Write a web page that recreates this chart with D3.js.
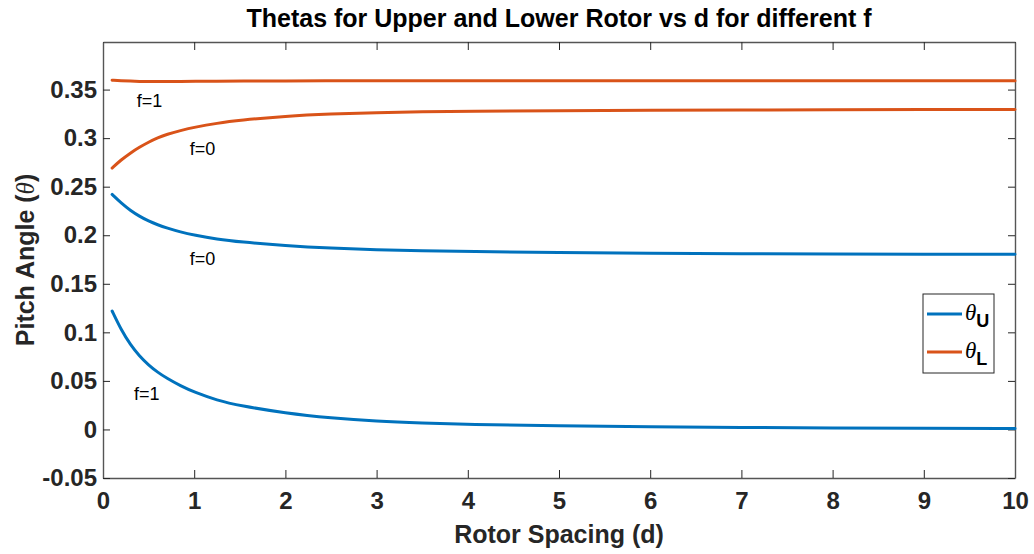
<!DOCTYPE html>
<html>
<head>
<meta charset="utf-8">
<script src="https://cdn.jsdelivr.net/npm/d3@7"></script>
<style>
  body { margin: 0; background: #fff; }
  text { font-family: "Liberation Sans", Arial, Helvetica, sans-serif; }
</style>
</head>
<body>
<div id="container"></div>
<script>
// data
const spacing = [0.1, 0.2, 0.3, 0.4, 0.5, 0.6, 0.7, 0.85, 1, 1.25, 1.5, 2, 2.5, 3, 3.5, 4, 5, 6, 7, 8, 9, 10];
const upperF1 = [0.122, 0.1024, 0.0873, 0.0755, 0.0663, 0.0588, 0.0527, 0.0449, 0.0384, 0.030, 0.0245, 0.0168, 0.0118, 0.0084, 0.0065, 0.0051, 0.0036, 0.0026, 0.002, 0.0015, 0.0012, 0.001];
const upperF0 = [0.242, 0.233, 0.2255, 0.2195, 0.2145, 0.2107, 0.2075, 0.2033, 0.2002, 0.196, 0.1932, 0.1892, 0.1866, 0.185, 0.184, 0.1832, 0.1822, 0.1815, 0.181, 0.1807, 0.1805, 0.1803];
const lowerF0 = [0.2692, 0.2777, 0.2847, 0.2907, 0.2959, 0.3004, 0.3040, 0.3078, 0.3112, 0.3154, 0.3184, 0.3226, 0.3249, 0.3263, 0.3271, 0.3276, 0.3283, 0.3287, 0.329, 0.3292, 0.3294, 0.3295];
const lowerF1 = [0.3597, 0.3591, 0.3587, 0.3584, 0.3583, 0.3583, 0.3583, 0.3584, 0.3585, 0.3586, 0.3587, 0.3589, 0.359, 0.359, 0.359, 0.3591, 0.3591, 0.3591, 0.3592, 0.3592, 0.3592, 0.3592];
const xTicks = [0, 1, 2, 3, 4, 5, 6, 7, 8, 9, 10];
const yTicks = [-0.05, 0, 0.05, 0.1, 0.15, 0.2, 0.25, 0.3, 0.35];
const curveLabels = [
  { text: "f=1", x: 0.37, y: 0.339 },
  { text: "f=0", x: 0.95, y: 0.2895 },
  { text: "f=0", x: 0.95, y: 0.1756 },
  { text: "f=1", x: 0.34, y: 0.0373 }
];

const width = 1034, height = 554;
const margin = { top: 42, right: 19, bottom: 76, left: 103 };
const blue = "#0072BD", orange = "#D95319";

const svg = d3.select("#container").append("svg")
  .attr("width", width).attr("height", height);

const x = d3.scaleLinear().domain([0, 10]).range([margin.left, width - margin.right]);
const y = d3.scaleLinear().domain([-0.05, 0.399]).range([height - margin.bottom, margin.top]);

// axes, MATLAB-ish box with inward ticks
const axisColor = "#555";
function styleAxis(g) {
  g.select(".domain").attr("stroke", axisColor).attr("stroke-width", 1.4);
  g.selectAll(".tick line").attr("stroke", "#262626").attr("stroke-width", 1);
}

svg.append("g")
  .attr("transform", `translate(0,${y.range()[0]})`)
  .call(d3.axisBottom(x).tickValues(xTicks).tickSizeInner(-8).tickSizeOuter(0).tickPadding(14).tickFormat(d3.format("d")))
  .call(styleAxis)
  .selectAll("text").attr("font-size", 24).attr("font-weight", "bold").attr("fill", "#262626");

svg.append("g")
  .attr("transform", `translate(0,${y.range()[1]})`)
  .call(d3.axisTop(x).tickValues(xTicks).tickSizeInner(-8).tickSizeOuter(0).tickFormat(""))
  .call(styleAxis);

svg.append("g")
  .attr("transform", `translate(${x.range()[0]},0)`)
  .call(d3.axisLeft(y).tickValues(yTicks).tickSizeInner(-7).tickSizeOuter(0).tickPadding(6).tickFormat(d => String(+d.toFixed(2))))
  .call(styleAxis)
  .selectAll("text").attr("font-size", 24).attr("font-weight", "bold").attr("fill", "#262626");

svg.append("g")
  .attr("transform", `translate(${x.range()[1]},0)`)
  .call(d3.axisRight(y).tickValues(yTicks).tickSizeInner(-7).tickSizeOuter(0).tickFormat(""))
  .call(styleAxis);

// curves
const line = d3.line()
  .x((d, i) => x(spacing[i]))
  .y(d => y(d))
  .curve(d3.curveBasis);

const series = [
  { values: upperF1, color: blue },
  { values: upperF0, color: blue },
  { values: lowerF0, color: orange },
  { values: lowerF1, color: orange }
];

svg.append("g").selectAll("path")
  .data(series)
  .enter().append("path")
  .attr("fill", "none")
  .attr("stroke", d => d.color)
  .attr("stroke-width", 3)
  .attr("stroke-linecap", "round")
  .attr("d", d => line(d.values));

// f= annotations
svg.append("g").selectAll("text")
  .data(curveLabels)
  .enter().append("text")
  .attr("x", d => x(d.x))
  .attr("y", d => y(d.y))
  .attr("dy", "0.35em")
  .attr("font-size", 18)
  .attr("fill", "#000")
  .text(d => d.text);

// title
svg.append("text")
  .attr("x", (x.range()[0] + x.range()[1]) / 2)
  .attr("y", 27)
  .attr("text-anchor", "middle")
  .attr("font-size", 25)
  .attr("font-weight", "bold")
  .text("Thetas for Upper and Lower Rotor vs d for different f");

// x label
svg.append("text")
  .attr("x", (x.range()[0] + x.range()[1]) / 2)
  .attr("y", 543)
  .attr("text-anchor", "middle")
  .attr("font-size", 25)
  .attr("font-weight", "bold")
  .attr("fill", "#262626")
  .text("Rotor Spacing (d)");

// y label
const yLab = svg.append("text")
  .attr("transform", `translate(34,${(y.range()[0] + y.range()[1]) / 2}) rotate(-90)`)
  .attr("text-anchor", "middle")
  .attr("font-size", 25)
  .attr("font-weight", "bold")
  .attr("fill", "#262626");
yLab.append("tspan").text("Pitch Angle (");
yLab.append("tspan").attr("font-style", "italic").attr("font-weight", "normal")
  .attr("font-family", "'Liberation Serif', serif").text("θ");
yLab.append("tspan").text(")");

// legend
const legend = svg.append("g").attr("transform", "translate(923,294)");
legend.append("rect")
  .attr("width", 71).attr("height", 79)
  .attr("fill", "#fff").attr("stroke", "#262626").attr("stroke-width", 1);

const legendItems = [
  { sub: "U", color: blue, y: 20 },
  { sub: "L", color: orange, y: 58 }
];
const li = legend.selectAll(".item").data(legendItems).enter().append("g")
  .attr("class", "item")
  .attr("transform", d => `translate(0,${d.y})`);
li.append("line")
  .attr("x1", 4).attr("x2", 39)
  .attr("stroke", d => d.color).attr("stroke-width", 3);
const lt = li.append("text").attr("x", 42).attr("y", 6).attr("font-size", 23);
lt.append("tspan").attr("font-style", "italic").attr("font-family", "'Liberation Serif', serif").text("θ");
lt.append("tspan").attr("dy", 7).attr("font-size", 18).attr("font-weight", "bold").text(d => d.sub);
</script>
</body>
</html>
